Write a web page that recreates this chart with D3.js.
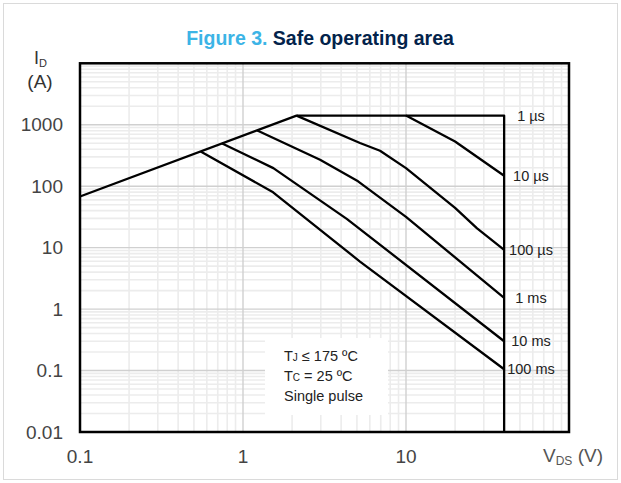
<!DOCTYPE html>
<html>
<head>
<meta charset="utf-8">
<script src="https://cdn.jsdelivr.net/npm/d3@7"></script>
<style>
  body { margin: 0; background: #fff; }
  svg { display: block; font-family: "Liberation Sans", Arial, sans-serif; }
</style>
</head>
<body>
<svg id="chart"></svg>
<script>
// SOA limits, [VDS (V), ID (A)]
const envelope = [[0.1, 68], [2.13, 1410], [40, 1410], [40, 0.01]];
const curve10us = [[10, 1410], [20, 535], [40, 148]];
const curve100us = [[2.13, 1410], [5.22, 505], [6.93, 377], [10, 197], [20, 44.5], [27.3, 20.6], [40, 9.2]];
const curve1ms = [[1.224, 807], [2.97, 269], [5.08, 120], [10, 31.7], [40, 1.52]];
const curve10ms = [[0.74, 500], [1.535, 197], [4.33, 29.4], [40, 0.3]];
const curve100ms = [[0.55, 367], [1.53, 79.6], [5.22, 5.94], [40, 0.105]];

const pulseLabels = ["1 µs", "10 µs", "100 µs", "1 ms", "10 ms", "100 ms"];
const labelCurves = [envelope.slice(1, 3), curve10us, curve100us, curve1ms, curve10ms, curve100ms];

const xTicks = [0.1, 1, 10];
const xTickLabels = ["0.1", "1", "10"];
const yTicks = [0.01, 0.1, 1, 10, 100, 1000];
const yTickLabels = ["0.01", "0.1", "1", "10", "100", "1000"];

const notes = [["T", "J", " ≤ 175 ºC"], ["T", "C", " = 25 ºC"], ["Single pulse", "", ""]];

const width = 621, height = 483;
const svg = d3.select("#chart").attr("width", width).attr("height", height);

const x = d3.scaleLog().domain([0.1, 100]).range([80, 569]);
const y = d3.scaleLog().domain([0.01, 10000]).range([432, 63.3]);

// outer frame
svg.append("rect")
    .attr("x", 3.5).attr("y", 3.5)
    .attr("width", 614).attr("height", 476)
    .attr("fill", "#fff")
    .attr("stroke", "#dadada")
    .attr("stroke-width", 1);

// title
const title = svg.append("text")
    .attr("x", 320).attr("y", 45)
    .attr("text-anchor", "middle")
    .attr("font-size", 19.5)
    .attr("font-weight", "bold");
title.append("tspan").attr("fill", "#3cb4e6").text("Figure 3. ");
title.append("tspan").attr("fill", "#03234b").text("Safe operating area");

// grid
const minorX = [], minorY = [];
[0.1, 1, 10].forEach(d => { for (let k = 2; k <= 9; k++) minorX.push(d * k); });
[0.01, 0.1, 1, 10, 100, 1000].forEach(d => { for (let k = 2; k <= 9; k++) minorY.push(d * k); });
const majorX = [1, 10];
const majorY = [0.1, 1, 10, 100, 1000];

const grid = svg.append("g");
grid.selectAll(".mx").data(minorX).enter().append("line")
    .attr("x1", d => x(d)).attr("x2", d => x(d))
    .attr("y1", y.range()[1]).attr("y2", y.range()[0])
    .attr("stroke", "#ececec").attr("stroke-width", 1.6);
grid.selectAll(".my").data(minorY).enter().append("line")
    .attr("y1", d => y(d)).attr("y2", d => y(d))
    .attr("x1", x.range()[0]).attr("x2", x.range()[1])
    .attr("stroke", "#ececec").attr("stroke-width", 1.6);
grid.selectAll(".Mx").data(majorX).enter().append("line")
    .attr("x1", d => x(d)).attr("x2", d => x(d))
    .attr("y1", y.range()[1]).attr("y2", y.range()[0])
    .attr("stroke", "#d0d0d0").attr("stroke-width", 1.4);
grid.selectAll(".My").data(majorY).enter().append("line")
    .attr("y1", d => y(d)).attr("y2", d => y(d))
    .attr("x1", x.range()[0]).attr("x2", x.range()[1])
    .attr("stroke", "#d0d0d0").attr("stroke-width", 1.4);

// note box
svg.append("rect")
    .attr("x", 265).attr("y", 338)
    .attr("width", 123).attr("height", 77)
    .attr("fill", "#fff");
const note = svg.append("g").attr("font-size", 14.5).attr("fill", "#222");
notes.forEach((n, i) => {
    const t = note.append("text").attr("x", 284).attr("y", 361 + i * 20);
    t.append("tspan").text(n[0]);
    if (n[1]) t.append("tspan").attr("font-size", 10).text(n[1]);
    if (n[2]) t.append("tspan").text(n[2]);
});

// curves
const line = d3.line().x(d => x(d[0])).y(d => y(d[1]));
svg.append("g")
    .selectAll("path")
    .data([envelope, curve10us, curve100us, curve1ms, curve10ms, curve100ms])
    .enter().append("path")
    .attr("d", line)
    .attr("fill", "none")
    .attr("stroke", "#000")
    .attr("stroke-width", 2.3)
    .attr("stroke-linejoin", "round");

// pulse labels at curve ends
svg.append("g")
    .selectAll("text")
    .data(pulseLabels)
    .enter().append("text")
    .attr("x", 531)
    .attr("y", (d, i) => {
        const c = labelCurves[i];
        return y(c[c.length - 1][1]);
    })
    .attr("dy", "0.35em")
    .attr("text-anchor", "middle")
    .attr("font-size", 14.5)
    .attr("fill", "#222")
    .text(d => d);

// plot border
svg.append("rect")
    .attr("x", x.range()[0]).attr("y", y.range()[1])
    .attr("width", x.range()[1] - x.range()[0])
    .attr("height", y.range()[0] - y.range()[1])
    .attr("fill", "none")
    .attr("stroke", "#000")
    .attr("stroke-width", 2.5);

// tick labels
svg.append("g")
    .selectAll("text")
    .data(yTicks)
    .enter().append("text")
    .attr("x", 63)
    .attr("y", d => y(d))
    .attr("dy", "0.35em")
    .attr("text-anchor", "end")
    .attr("font-size", 19)
    .attr("fill", "#444")
    .text((d, i) => yTickLabels[i]);

svg.append("g")
    .selectAll("text")
    .data(xTicks)
    .enter().append("text")
    .attr("x", d => x(d))
    .attr("y", 463)
    .attr("text-anchor", "middle")
    .attr("font-size", 19)
    .attr("fill", "#444")
    .text((d, i) => xTickLabels[i]);

// axis titles
const yt = svg.append("text").attr("x", 34).attr("y", 64).attr("font-size", 18).attr("fill", "#333");
yt.append("tspan").text("I");
yt.append("tspan").attr("font-size", 11).attr("dy", 3).text("D");
svg.append("text").attr("x", 40).attr("y", 88)
    .attr("text-anchor", "middle").attr("font-size", 19).attr("fill", "#333").text("(A)");

const xt = svg.append("text").attr("x", 543).attr("y", 462).attr("font-size", 19).attr("fill", "#555");
xt.append("tspan").text("V");
xt.append("tspan").attr("font-size", 12).attr("dy", 3).text("DS");
xt.append("tspan").attr("dy", -3).text(" (V)");
</script>
</body>
</html>
